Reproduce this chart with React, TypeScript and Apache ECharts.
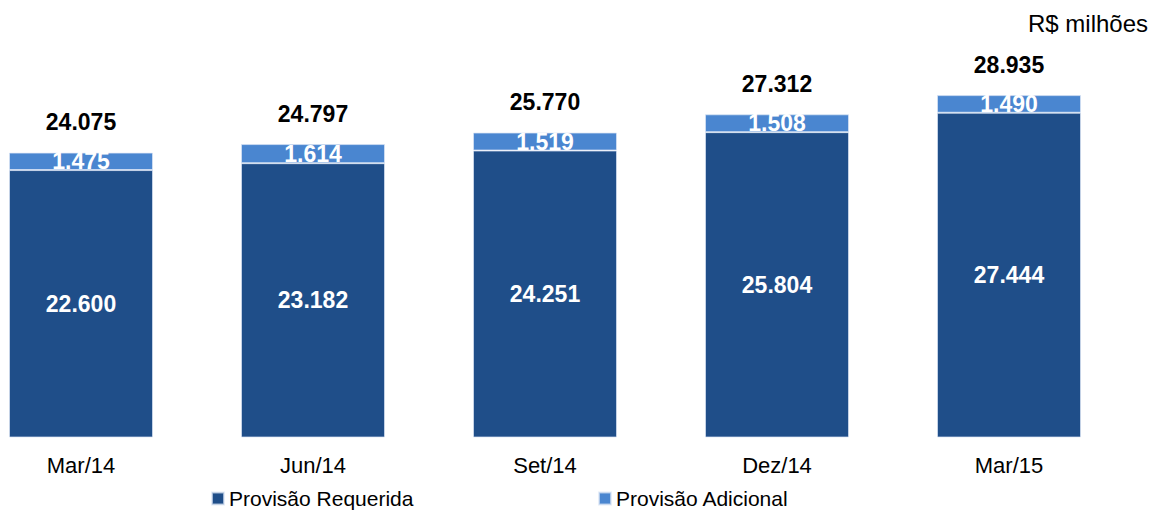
import React, { useEffect, useRef } from "react";
import * as echarts from "echarts";

const categories = ["Mar/14", "Jun/14", "Set/14", "Dez/14", "Mar/15"];
const requerida = [22600, 23182, 24251, 25804, 27444];
const adicional = [1475, 1614, 1519, 1508, 1490];
const totals = [24075, 24797, 25770, 27312, 28935];

const fmt = (v: number) => v.toLocaleString("pt-BR");
const FONT = "'Liberation Sans', Arial, sans-serif";

export default function App() {
  const ref = useRef<HTMLDivElement>(null);
  useEffect(() => {
    const chart = echarts.init(ref.current!, null, { renderer: "svg" });
    const common = {
      type: "bar",
      stack: "t",
      barWidth: 144,
      clip: false,
    };
    const legendStyle = {
      top: 488,
      itemWidth: 12,
      itemHeight: 12,
      icon: "rect",
      padding: 0,
      textStyle: { fontSize: 21, color: "#000", fontFamily: FONT },
    };
    chart.setOption({
      animation: false,
      textStyle: { fontFamily: FONT },
      grid: { left: 81, right: 141, top: 82.5, bottom: 72.5, containLabel: false },
      xAxis: {
        type: "category",
        data: categories,
        boundaryGap: false,
        axisLine: { show: false },
        axisTick: { show: false },
        axisLabel: { fontSize: 22, color: "#000", margin: 17, fontFamily: FONT },
      },
      yAxis: { type: "value", min: 0, max: 30000, show: false, splitLine: { show: false } },
      legend: [
        { ...legendStyle, data: ["Provisão Requerida"], left: 211 },
        { ...legendStyle, data: ["Provisão Adicional"], left: 598 },
      ],
      graphic: [
        {
          type: "text",
          right: 2,
          top: 11,
          style: { text: "R$ milhões", fontSize: 24, fill: "#000", fontFamily: FONT },
        },
      ],
      series: [
        {
          ...common,
          name: "Provisão Requerida",
          data: requerida,
          itemStyle: { color: "#1F4E89", borderColor: "rgba(220,230,245,0.7)", borderWidth: 1 },
          label: {
            show: true,
            position: "inside",
            color: "#fff",
            fontWeight: "bold",
            fontSize: 23,
            fontFamily: FONT,
            formatter: (p: any) => fmt(p.value),
          },
        },
        {
          ...common,
          name: "Provisão Adicional",
          data: adicional,
          itemStyle: { color: "#4A86D0", borderColor: "rgba(220,230,245,0.7)", borderWidth: 1 },
          label: {
            show: true,
            position: "inside",
            color: "#fff",
            fontWeight: "bold",
            fontSize: 23,
            fontFamily: FONT,
            formatter: (p: any) => fmt(p.value),
          },
        },
        {
          ...common,
          name: "Total",
          data: totals.map(() => 0),
          itemStyle: { color: "transparent" },
          label: {
            show: true,
            position: "top",
            distance: 19,
            color: "#000",
            fontWeight: "bold",
            fontSize: 23,
            fontFamily: FONT,
            formatter: (p: any) => fmt(totals[p.dataIndex]),
          },
        },
      ],
    });
    return () => chart.dispose();
  }, []);
  return (
    <div
      ref={ref}
      style={{ position: "fixed", left: 0, top: 0, width: 1150, height: 510, background: "#fff" }}
    />
  );
}
